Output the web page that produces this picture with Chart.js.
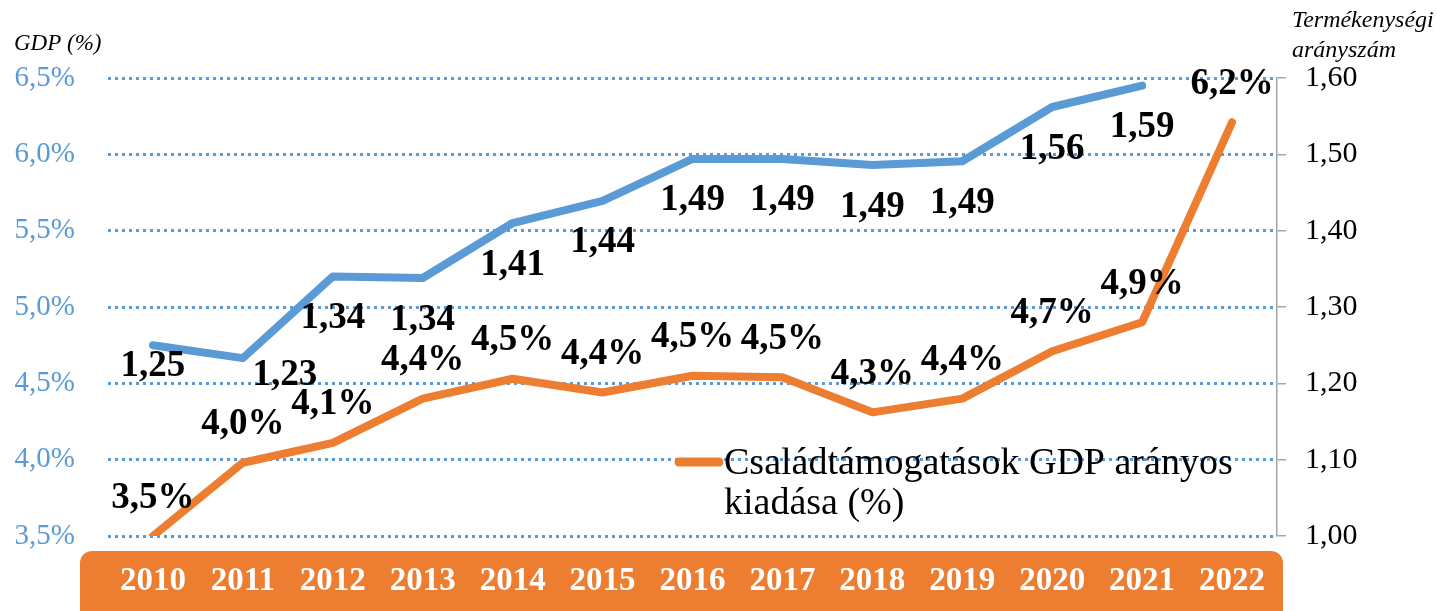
<!DOCTYPE html>
<html>
<head>
<meta charset="utf-8">
<script src="https://cdn.jsdelivr.net/npm/chart.js@4"></script>
<style>
  body { margin: 0; background: #fff; }
  canvas { display: block; }
</style>
</head>
<body>
<canvas id="myChart" width="1437" height="611"></canvas>
<script>
// years on the x axis
var years = ['2010', '2011', '2012', '2013', '2014', '2015', '2016', '2017', '2018', '2019', '2020', '2021', '2022'];
// family support spending, % of GDP (left axis)
var supportGdp = [3.5, 3.98, 4.11, 4.4, 4.53, 4.44, 4.55, 4.54, 4.31, 4.4, 4.71, 4.9, 6.21];
// total fertility rate (right axis), no value for 2022
var fertility = [1.25, 1.233, 1.34, 1.338, 1.41, 1.439, 1.494, 1.494, 1.486, 1.491, 1.562, 1.59, null];
// axis ticks
var leftTicks = [3.5, 4.0, 4.5, 5.0, 5.5, 6.0, 6.5];
var rightTicks = [1.0, 1.1, 1.2, 1.3, 1.4, 1.5, 1.6];

var legendLines = ['Családtámogatások GDP arányos', 'kiadása (%)'];

var BLUE = '#5B9BD5';
var ORANGE = '#ED7D31';
var SERIF = '"Liberation Serif", "Times New Roman", serif';

function hu(v, d) {
    return v.toFixed(d).replace('.', ',');
}

// small nudges for crowded labels of the blue line [dx, dy]
var blueNudge = { 0: [0, -21], 1: [42, -25] };

var orangeBox = {
    id: 'orangeBox',
    beforeDraw: function (chart) {
        var ctx = chart.ctx, a = chart.chartArea;
        ctx.save();
        ctx.fillStyle = ORANGE;
        ctx.beginPath();
        ctx.roundRect(a.left - 28, a.bottom + 15, a.right - a.left + 34, 90, 12);
        ctx.fill();
        ctx.restore();
    }
};

var valueLabels = {
    id: 'valueLabels',
    afterDatasetsDraw: function (chart) {
        var ctx = chart.ctx;
        ctx.save();
        ctx.font = 'bold 37px ' + SERIF;
        ctx.fillStyle = '#000';
        ctx.textAlign = 'center';
        ctx.textBaseline = 'middle';
        chart.data.datasets.forEach(function (ds, i) {
            var meta = chart.getDatasetMeta(i);
            meta.data.forEach(function (pt, j) {
                var v = ds.data[j];
                if (v === null) return;
                var txt, dx = 0, dy;
                if (ds.yAxisID === 'y') {
                    txt = hu(v, 1) + '%';
                    dy = -38;
                } else {
                    txt = hu(v, 2);
                    dy = 42;
                    if (blueNudge[j]) { dx = blueNudge[j][0]; dy += blueNudge[j][1]; }
                }
                ctx.fillText(txt, pt.x + dx, pt.y + dy);
            });
        });
        ctx.restore();
    }
};

var extras = {
    id: 'extras',
    afterDraw: function (chart) {
        var ctx = chart.ctx;
        ctx.save();
        ctx.fillStyle = '#000';
        ctx.font = 'italic 23px ' + SERIF;
        ctx.textBaseline = 'alphabetic';
        ctx.textAlign = 'left';
        ctx.fillText('GDP (%)', 14, 50);
        ctx.font = 'italic 24px ' + SERIF;
        ctx.fillText('Termékenységi', 1292, 27);
        ctx.fillText('arányszám', 1292, 57);

        // legend (orange series only)
        var lx = 679, ly = 462;
        ctx.strokeStyle = ORANGE;
        ctx.lineWidth = 9;
        ctx.lineCap = 'round';
        ctx.beginPath();
        ctx.moveTo(lx, ly);
        ctx.lineTo(lx + 40, ly);
        ctx.stroke();
        ctx.font = '38px ' + SERIF;
        ctx.textBaseline = 'middle';
        legendLines.forEach(function (t, k) {
            ctx.fillText(t, lx + 45, ly + 2 + k * 40);
        });
        ctx.restore();
    }
};

var ctx = document.getElementById('myChart').getContext('2d');
var chart = new Chart(ctx, {
    type: 'line',
    data: {
        labels: years,
        datasets: [{
            label: 'Termékenységi arányszám',
            data: fertility,
            yAxisID: 'y1',
            borderColor: BLUE,
            borderWidth: 8,
            borderCapStyle: 'round',
            borderJoinStyle: 'round',
            pointRadius: 0,
            tension: 0,
            spanGaps: false
        }, {
            label: 'Családtámogatások GDP arányos kiadása (%)',
            data: supportGdp,
            yAxisID: 'y',
            borderColor: ORANGE,
            borderWidth: 8,
            borderCapStyle: 'round',
            borderJoinStyle: 'round',
            pointRadius: 0,
            tension: 0,
            clip: { left: 10, top: 10, right: 10, bottom: 0 }
        }]
    },
    options: {
        responsive: false,
        animation: false,
        layout: { padding: { top: 78, left: 0, right: 0, bottom: 0 } },
        plugins: {
            legend: { display: false },
            tooltip: { enabled: false }
        },
        scales: {
            x: {
                offset: true,
                grid: { display: false, drawTicks: false },
                border: { display: false },
                ticks: {
                    color: '#fff',
                    font: { family: SERIF, size: 33, weight: 'bold' },
                    padding: 26,
                    autoSkip: false,
                    maxRotation: 0
                },
                afterFit: function (s) { s.height = 75; }
            },
            y: {
                position: 'left',
                min: 3.5,
                max: 6.5,
                afterBuildTicks: function (s) { s.ticks = leftTicks.map(function (v) { return { value: v }; }); },
                grid: { color: BLUE, lineWidth: 3, drawTicks: false },
                border: { display: false, dash: [3, 4] },
                ticks: {
                    color: BLUE,
                    font: { family: SERIF, size: 29 },
                    padding: 33,
                    callback: function (v) { return hu(v, 1) + '%'; }
                },
                afterFit: function (s) { s.width = 108; }
            },
            y1: {
                position: 'right',
                min: 1.0,
                max: 1.6,
                afterBuildTicks: function (s) { s.ticks = rightTicks.map(function (v) { return { value: v }; }); },
                grid: { drawOnChartArea: false, drawTicks: true, tickLength: 9, color: '#a6a6a6', lineWidth: 1.5 },
                border: { display: true, color: '#a6a6a6', width: 1.5 },
                ticks: {
                    color: '#000',
                    font: { family: SERIF, size: 30 },
                    padding: 19,
                    callback: function (v) { return hu(v, 2); }
                },
                afterFit: function (s) { s.width = 160; }
            }
        }
    },
    plugins: [orangeBox, valueLabels, extras]
});
</script>
</body>
</html>
